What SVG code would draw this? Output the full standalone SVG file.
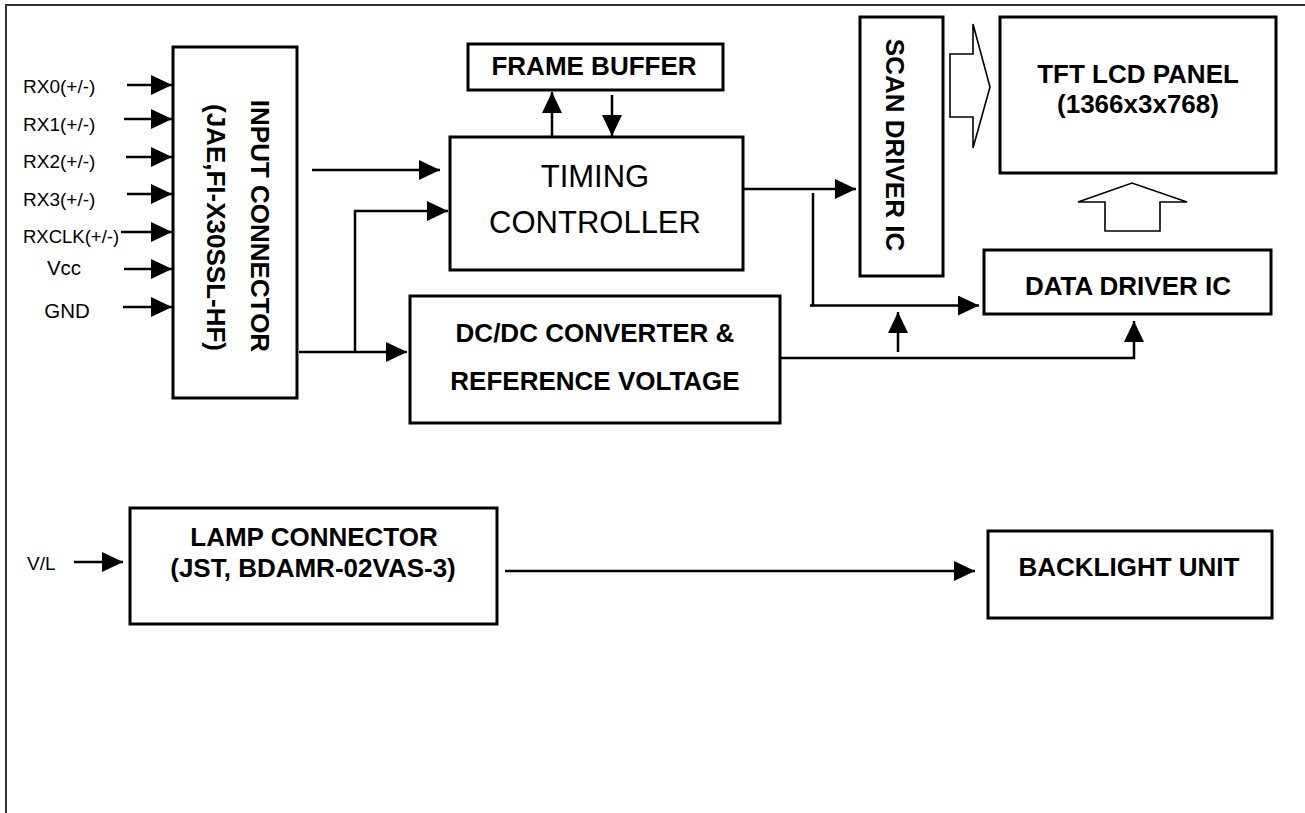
<svg xmlns="http://www.w3.org/2000/svg" width="1305" height="813" viewBox="0 0 1305 813">
<style>
.box{fill:#fff;stroke:#000;stroke-width:3}
.ln{fill:none;stroke:#000;stroke-width:2.5}
.blk{fill:none;stroke:#000;stroke-width:1.6}
.b{font-family:"Liberation Sans",Arial,sans-serif;font-weight:bold;font-size:26px;fill:#000}
.r{font-family:"Liberation Sans",Arial,sans-serif;fill:#000}
.c{text-anchor:middle}
</style>
<defs>
<marker id="ah" markerUnits="userSpaceOnUse" markerWidth="21" markerHeight="20" refX="21" refY="10" orient="auto">
<path d="M0,0 L21,10 L0,20 Z" fill="#000"/>
</marker>
</defs>
<rect width="1305" height="813" fill="#fff"/>
<path d="M6,813 V5 H1305" fill="none" stroke="#333" stroke-width="2"/>

<g id="labels">
<text class="r" x="23" y="93" font-size="19">RX0(+/-)</text>
<text class="r" x="23" y="130.5" font-size="19">RX1(+/-)</text>
<text class="r" x="23" y="168" font-size="19">RX2(+/-)</text>
<text class="r" x="23" y="205.5" font-size="19">RX3(+/-)</text>
<text class="r" x="23" y="243" font-size="18.5">RXCLK(+/-)</text>
<text class="r c" x="64" y="275" font-size="20.5">Vcc</text>
<text class="r c" x="67" y="318" font-size="20.5">GND</text>
<text class="r" x="27" y="570" font-size="19">V/L</text>
</g>

<g id="input-connector">
<rect class="box" x="173" y="47" width="124" height="351"/>
<text class="b c" transform="translate(251,226) rotate(90)">INPUT CONNECTOR</text>
<text class="b c" transform="translate(207,227.5) rotate(90)">(JAE,FI-X30SSL-HF)</text>
</g>

<g id="frame-buffer">
<rect class="box" x="468" y="44" width="255" height="46"/>
<text class="b c" x="594" y="75">FRAME BUFFER</text>
</g>

<g id="timing-controller">
<rect class="box" x="450" y="137" width="293" height="133"/>
<text class="r c" x="595" y="187" font-size="31">TIMING</text>
<text class="r c" x="595" y="233" font-size="31">CONTROLLER</text>
</g>

<g id="dcdc">
<rect class="box" x="410" y="296" width="370" height="127"/>
<text class="b c" x="595" y="342">DC/DC CONVERTER &amp;</text>
<text class="b c" x="595" y="390">REFERENCE VOLTAGE</text>
</g>

<g id="scan-driver">
<rect class="box" x="860" y="17" width="83" height="259"/>
<text class="b c" transform="translate(886,145) rotate(90)">SCAN DRIVER IC</text>
</g>

<g id="tft-panel">
<rect class="box" x="1000" y="17" width="276" height="156"/>
<text class="b c" x="1138" y="83">TFT LCD PANEL</text>
<text class="b c" x="1138" y="113">(1366x3x768)</text>
</g>

<g id="data-driver">
<rect class="box" x="984" y="250" width="287" height="64"/>
<text class="b c" x="1128" y="295">DATA DRIVER IC</text>
</g>

<g id="lamp-connector">
<rect class="box" x="130" y="508" width="367" height="116"/>
<text class="b c" x="314" y="546">LAMP CONNECTOR</text>
<text class="b c" x="313" y="577">(JST, BDAMR-02VAS-3)</text>
</g>

<g id="backlight">
<rect class="box" x="988" y="531" width="284" height="87"/>
<text class="b c" x="1129" y="576">BACKLIGHT UNIT</text>
</g>

<g id="connectors">
<line class="ln" x1="127" y1="85" x2="172" y2="85" marker-end="url(#ah)"/>
<line class="ln" x1="124" y1="119" x2="172" y2="119" marker-end="url(#ah)"/>
<line class="ln" x1="126" y1="157" x2="172" y2="157" marker-end="url(#ah)"/>
<line class="ln" x1="127" y1="194" x2="172" y2="194" marker-end="url(#ah)"/>
<line class="ln" x1="121" y1="232" x2="172" y2="232" marker-end="url(#ah)"/>
<line class="ln" x1="124" y1="269" x2="172" y2="269" marker-end="url(#ah)"/>
<line class="ln" x1="123" y1="307" x2="172" y2="307" marker-end="url(#ah)"/>
<line class="ln" x1="74" y1="562" x2="123" y2="562" marker-end="url(#ah)"/>

<line class="ln" x1="312" y1="170" x2="440" y2="170" marker-end="url(#ah)"/>
<path class="ln" d="M355,352 V211 H448" marker-end="url(#ah)"/>
<line class="ln" x1="299" y1="352" x2="407" y2="352" marker-end="url(#ah)"/>

<line class="ln" x1="552" y1="136" x2="552" y2="92" marker-end="url(#ah)"/>
<line class="ln" x1="612" y1="95" x2="612" y2="136" marker-end="url(#ah)"/>

<line class="ln" x1="743" y1="189" x2="856" y2="189" marker-end="url(#ah)"/>
<path class="ln" d="M813,193 V305.5 H979" marker-end="url(#ah)"/>
<line class="ln" x1="810" y1="305.5" x2="813" y2="305.5"/>
<path class="ln" d="M781,358 H1134 V321" marker-end="url(#ah)"/>
<line class="ln" x1="898" y1="352" x2="898" y2="312" marker-end="url(#ah)"/>

<line class="ln" x1="505" y1="571" x2="975" y2="571" marker-end="url(#ah)"/>

<path class="blk" d="M950,54 H973 V24 L990,87 L973,148 V117 H950 Z"/>
<path class="blk" d="M1105,231 V202 H1078 L1132,183 L1187,202 H1160 V231 Z"/>
</g>
</svg>
